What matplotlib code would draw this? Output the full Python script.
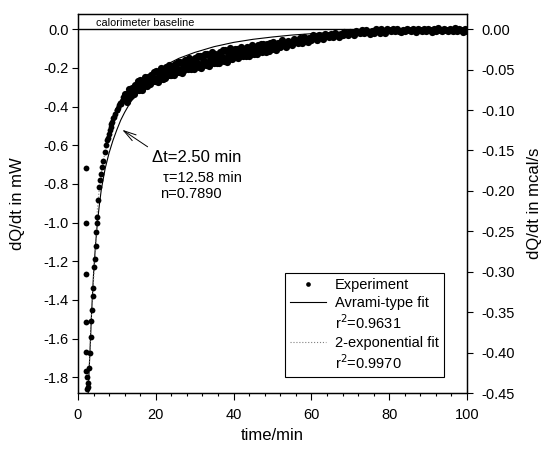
import matplotlib
matplotlib.use("Agg")
import matplotlib.pyplot as plt
from matplotlib.lines import Line2D
import numpy as np

plt.rcParams['font.family'] = ['Liberation Sans', 'DejaVu Sans']
plt.rcParams['axes.unicode_minus'] = False

MW_PER_MCAL = 4.184

# experiment, early part (t < 12 min)
t_early = [2.0, 2.0, 2.1, 2.1, 2.1, 2.2, 2.3,
           2.4, 2.5, 2.65, 2.9, 3.1, 3.25, 3.3, 3.5, 3.8, 3.95, 4.2, 4.4, 4.55, 4.7,
           4.8, 4.85, 5.1, 5.4, 5.6, 5.9, 6.2, 6.5, 6.9, 7.2, 7.55, 7.8, 8.0, 8.3,
           8.5, 8.6, 8.8, 9.1, 9.3, 9.5, 9.95, 10.1, 10.3, 10.6, 10.8, 11.0, 11.3,
           11.5, 11.6]
v_early = [-0.72, -1.0, -1.265, -1.515, -1.67, -1.77, -1.80,
           -1.86, -1.85, -1.83, -1.75, -1.675, -1.59, -1.51, -1.45, -1.38, -1.34, -1.23,
           -1.19, -1.12, -1.05, -1.0, -0.97, -0.885, -0.816, -0.78, -0.747, -0.71, -0.68,
           -0.634, -0.60, -0.573, -0.56, -0.54, -0.52, -0.505, -0.49, -0.48, -0.46,
           -0.455, -0.44, -0.418, -0.42, -0.405, -0.39, -0.38, -0.385, -0.37, -0.35,
           -0.365]

# experiment, 12..49.75 min every 0.25 min
t_mid = [12 + 0.25 * i for i in range(152)]
v_mid = [
    -0.335, -0.363, -0.378, -0.334, -0.357, -0.307, -0.327, -0.347,
    -0.303, -0.319, -0.337, -0.287, -0.297, -0.315, -0.270, -0.314,
    -0.265, -0.295, -0.312, -0.270, -0.295, -0.247, -0.269, -0.291,
    -0.249, -0.266, -0.285, -0.236, -0.247, -0.266, -0.222, -0.267,
    -0.215, -0.253, -0.273, -0.225, -0.256, -0.201, -0.229, -0.256,
    -0.208, -0.229, -0.254, -0.196, -0.210, -0.235, -0.183, -0.238,
    -0.239, -0.191, -0.212, -0.238, -0.180, -0.194, -0.219, -0.168,
    -0.222, -0.167, -0.206, -0.227, -0.180, -0.211, -0.157, -0.185,
    -0.174, -0.205, -0.151, -0.179, -0.207, -0.160, -0.181, -0.207,
    -0.150, -0.165, -0.190, -0.139, -0.194, -0.140, -0.178, -0.200,
    -0.140, -0.155, -0.180, -0.129, -0.184, -0.130, -0.168, -0.190,
    -0.143, -0.175, -0.120, -0.149, -0.177, -0.130, -0.151, -0.177,
    -0.149, -0.175, -0.117, -0.132, -0.158, -0.107, -0.162, -0.108,
    -0.147, -0.169, -0.121, -0.153, -0.099, -0.128, -0.156, -0.109,
    -0.141, -0.101, -0.144, -0.102, -0.132, -0.149, -0.112, -0.137,
    -0.094, -0.116, -0.139, -0.101, -0.119, -0.138, -0.093, -0.105,
    -0.138, -0.101, -0.126, -0.083, -0.105, -0.128, -0.090, -0.108,
    -0.127, -0.082, -0.094, -0.114, -0.074, -0.117, -0.075, -0.105,
    -0.093, -0.116, -0.078, -0.096, -0.115, -0.070, -0.082, -0.102,
]

# experiment, 50..100 min every 0.5 min
t_late = [50 + 0.5 * i for i in range(101)]
v_late = [
    -0.068, -0.093, -0.106, -0.073, -0.093, -0.056, -0.074, -0.092, -0.059, -0.072,
    -0.082, -0.053, -0.059, -0.070, -0.044, -0.069, -0.042, -0.059, -0.068, -0.044,
    -0.058, -0.031, -0.043, -0.057, -0.032, -0.042, -0.053, -0.024, -0.031, -0.042,
    -0.022, -0.039, -0.020, -0.031, -0.038, -0.022, -0.032, -0.012, -0.021, -0.030,
    -0.013, -0.020, -0.028, -0.008, -0.013, -0.021, -0.003, -0.021, -0.002, -0.015,
    -0.022, -0.007, -0.017, 0.001, -0.008, -0.018, -0.001, -0.009, -0.017, 0.003,
    -0.003, -0.009, 0.003, -0.011, 0.002, -0.007, -0.013, -0.002, -0.010, 0.003,
    -0.004, -0.011, 0.000, -0.006, -0.012, 0.001, -0.003, -0.009, 0.003, -0.011,
    0.003, -0.006, -0.012, -0.001, -0.009, 0.004, -0.003, -0.010, 0.001, -0.005,
    -0.011, 0.002, -0.002, -0.008, 0.004, -0.010, 0.003, -0.006, -0.012, -0.001,
    -0.009,
]

# Avrami-type fit
t_avrami = [2.65, 2.8, 3.0, 3.5, 4.0, 4.5, 5.0, 5.5, 6.0, 7.0, 8.0, 9.0, 10, 11, 12,
            14, 16, 18, 20, 23, 26, 30, 35, 40, 45, 50, 55, 60, 65, 70, 75, 80, 90, 100]
v_avrami = [-1.88, -1.80, -1.71, -1.47, -1.27, -1.12, -1.0, -0.91, -0.83, -0.72, -0.64,
            -0.575, -0.52, -0.47, -0.43, -0.36, -0.305, -0.26, -0.225, -0.18, -0.15,
            -0.12, -0.09, -0.068, -0.052, -0.04, -0.03, -0.023, -0.017, -0.013, -0.01,
            -0.007, -0.004, -0.002]

# 2-exponential fit
t_2exp = [2.5, 3, 3.5, 4, 4.5, 5, 5.5, 6, 7, 8, 9, 10, 11, 12, 14, 16, 18, 20, 25, 30,
          35, 40, 45, 50, 55, 60, 65, 70, 80, 90, 100]
v_2exp = [-1.86, -1.70, -1.46, -1.30, -1.16, -0.93, -0.82, -0.74, -0.63, -0.54, -0.47,
          -0.42, -0.385, -0.36, -0.32, -0.29, -0.266, -0.245, -0.206, -0.176, -0.151,
          -0.128, -0.108, -0.088, -0.068, -0.048, -0.033, -0.02, -0.006, -0.005, -0.004]

t_band = t_mid + t_late
v_band = v_mid + v_late

fig = plt.figure(figsize=(5.45, 4.51), dpi=100)
ax = fig.add_axes([0.143, 0.1286, 0.714, 0.8404])

ax.axhline(0.0, color='black', lw=1.0, zorder=1)
ax.text(4.6, 0.03, 'calorimeter baseline', fontsize=7.8, va='center', ha='left')

h_exp, = ax.plot(t_early, v_early, 'o', color='black', ms=4.2, mew=0, zorder=3)
ax.plot(t_band, v_band, 'o', color='black', ms=5.2, mew=0, zorder=3)
h_avr, = ax.plot(t_avrami, v_avrami, '-', color='black', lw=0.8, zorder=2)
h_2ex, = ax.plot(t_2exp, v_2exp, ':', color='gray', lw=0.8, zorder=2)

ax.annotate('', xy=(10.8, -0.512), xytext=(18.5, -0.616),
            arrowprops=dict(arrowstyle='->,head_length=0.9,head_width=0.25',
                            color='black', lw=0.7))
ax.text(19.0, -0.663, '\u0394t=2.50 min', fontsize=12, va='center', ha='left')
ax.text(21.9, -0.77, '\u03c4=12.58 min', fontsize=10.5, va='center', ha='left')
ax.text(21.1, -0.85, 'n=0.7890', fontsize=10.5, va='center', ha='left')

ax.set_xlim(0, 100)
ax.set_ylim(-1.8816, 0.079)
ax.set_xticks(np.arange(0, 101, 20))
ax.set_xticks(np.arange(0, 101, 4), minor=True)
ax.set_yticks(np.arange(0, -1.81, -0.2))
ax.yaxis.set_major_formatter(matplotlib.ticker.FormatStrFormatter('%.1f'))
ax.tick_params(axis='x', which='major', direction='out', length=5, width=0.8,
               labelsize=10.5, pad=6, top=False)
ax.tick_params(axis='x', which='minor', direction='out', length=2.5, width=0.8)
ax.tick_params(axis='y', which='major', direction='out', length=4, width=0.8,
               labelsize=10.5, pad=2.5, right=False)
ax.set_xlabel('time/min', fontsize=12)
ax.set_ylabel('dQ/dt in mW', fontsize=12)
ax.xaxis.set_label_coords(0.5, -0.092)
ax.yaxis.set_label_coords(-0.136, 0.5)

ax2 = ax.twinx()
lo, hi = ax.get_ylim()
ax2.set_ylim(lo / MW_PER_MCAL, hi / MW_PER_MCAL)
ax2.set_yticks(np.arange(0, -0.451, -0.05))
ax2.yaxis.set_major_formatter(matplotlib.ticker.FormatStrFormatter('%.2f'))
ax2.tick_params(axis='y', direction='out', length=4, width=0.8, labelsize=10.5, pad=6.5)
ax2.set_ylabel('dQ/dt in mcal/s', fontsize=12)
ax2.yaxis.set_label_coords(1.154, 0.5)

for a in (ax, ax2):
    for s in a.spines.values():
        s.set_linewidth(0.9)

blank = Line2D([], [], linestyle='none')
handles = [h_exp, h_avr, blank, h_2ex, blank]
labels = ['Experiment', 'Avrami-type fit', 'r$^2$=0.9631',
          '2-exponential fit', 'r$^2$=0.9970']
leg = ax.legend(handles, labels, loc='lower right', bbox_to_anchor=(0.941, 0.042),
                borderaxespad=0, fontsize=10.5, frameon=True, fancybox=False,
                edgecolor='black', framealpha=1, handlelength=2.5, borderpad=0.35,
                labelspacing=0.25, handletextpad=0.6, markerscale=0.8)
leg.get_frame().set_linewidth(0.8)

fig.savefig('out.png', dpi=100)
